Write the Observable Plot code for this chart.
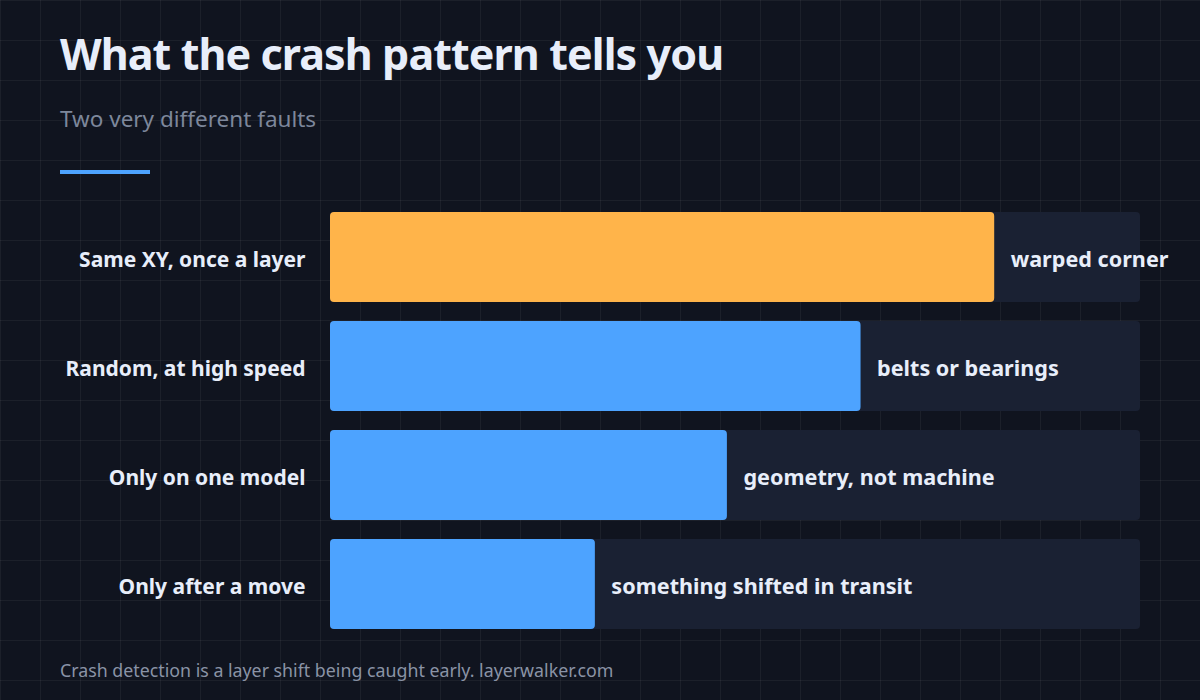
<!DOCTYPE html>
<html>
<head>
<meta charset="utf-8">
<script src="https://cdn.jsdelivr.net/npm/d3@7"></script>
<script src="https://cdn.jsdelivr.net/npm/@observablehq/plot@0.6"></script>
<style>
  html, body { margin: 0; padding: 0; }
  body {
    width: 1200px; height: 700px; overflow: hidden;
    background-color: #10141f;
    background-image:
      linear-gradient(to right, rgba(255,255,255,0.05) 1px, transparent 1px),
      linear-gradient(to bottom, rgba(255,255,255,0.05) 1px, transparent 1px);
    background-size: 40px 40px;
    background-position: 0 0;
    font-family: "Noto Sans", "Open Sans", sans-serif;
    position: relative;
  }
  #title { position: absolute; left: 60px; top: 24px; margin: 0; font-size: 43px; font-weight: 700; color: #e8eefa; line-height: 60px; letter-spacing: -0.9px; }
  #subtitle { position: absolute; left: 60px; top: 103px; margin: 0; font-size: 22.5px; color: #7d879b; line-height: 32px; }
  #accent { position: absolute; left: 60px; top: 170px; width: 90px; height: 4px; background: #4da3ff; }
  #chart { position: absolute; left: 0; top: 200px; }
  #footer { position: absolute; left: 60px; top: 657px; font-size: 17.8px; color: #8a93a6; line-height: 26px; }
</style>
</head>
<body>
<h1 id="title">What the crash pattern tells you</h1>
<div id="subtitle">Two very different faults</div>
<div id="accent"></div>
<div id="chart"></div>
<div id="footer">Crash detection is a layer shift being caught early. layerwalker.com</div>
<script>
const categories = ["Same XY, once a layer", "Random, at high speed", "Only on one model", "Only after a move"];
const values = [82, 65.5, 49, 32.7];
const notes = ["warped corner", "belts or bearings", "geometry, not machine", "something shifted in transit"];
const colors = ["#ffb44a", "#4da3ff", "#4da3ff", "#4da3ff"];
const trackMax = 100;

const data = categories.map((c, i) => ({ category: c, value: values[i], note: notes[i], color: colors[i], max: trackMax }));

const chart = Plot.plot({
  width: 1200,
  height: 450,
  marginLeft: 330,
  marginRight: 60,
  marginTop: 12,
  marginBottom: 21,
  style: { background: "transparent", fontFamily: "Noto Sans, Open Sans, sans-serif", overflow: "visible" },
  x: { domain: [0, trackMax], axis: null },
  y: { domain: categories, axis: null, paddingInner: 19 / 109, paddingOuter: 0 },
  marks: [
    Plot.barX(data, { y: "category", x1: 0, x2: "max", fill: "#1a2133", rx: 4 }),
    Plot.barX(data, { y: "category", x1: 0, x2: "value", fill: "color", rx: 4 }),
    Plot.text(data, { y: "category", x: "value", text: "note", textAnchor: "start", dx: 16, dy: 3, fill: "#e8eefa", fontSize: 21.6, fontWeight: "bold" }),
    Plot.text(data, { y: "category", frameAnchor: "left", text: "category", textAnchor: "end", dx: -25, dy: 3, fill: "#e8eefa", fontSize: 21, fontWeight: "bold" })
  ]
});
document.getElementById("chart").appendChild(chart);
</script>
</body>
</html>
